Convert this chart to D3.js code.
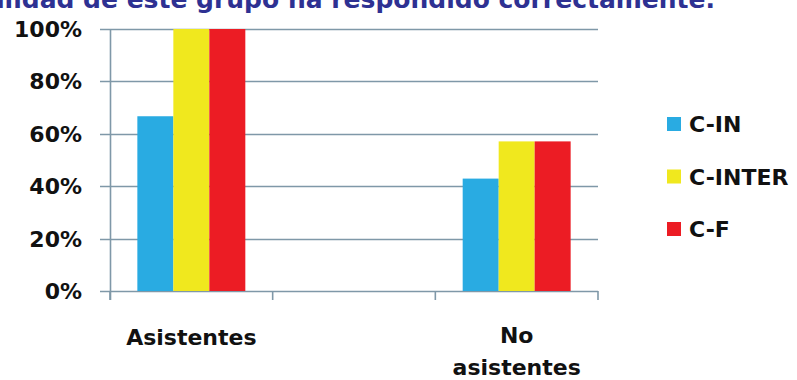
<!DOCTYPE html>
<html>
<head>
<meta charset="utf-8">
<script src="https://cdn.jsdelivr.net/npm/d3@7"></script>
<style>
  html, body { margin: 0; padding: 0; background: #fff; }
  svg { display: block; }
  text { font-family: "DejaVu Sans", sans-serif; font-weight: 700; fill: #111; }
</style>
</head>
<body>
<svg id="chart" width="797" height="380"></svg>
<script>
// Groups on the x axis (the middle slot is left empty)
const categories = ["Asistentes", "", "No asistentes"];
// Series names and their values per group (fraction of respondents)
const series = ["C-IN", "C-INTER", "C-F"];
const valuesCIN    = [0.667, null, 0.429];
const valuesCINTER = [1.0,   null, 0.571];
const valuesCF     = [1.0,   null, 0.571];
const seriesValues = [valuesCIN, valuesCINTER, valuesCF];
const colors = ["#29ABE2", "#F0E81E", "#EC1C24"];
const yTicks = [0, 0.2, 0.4, 0.6, 0.8, 1.0];
const titleText = "La totalidad de este grupo ha respondido correctamente.";

const svg = d3.select("#chart");

const x = d3.scaleBand().domain(d3.range(categories.length)).range([110, 598]).padding(0);
const xInner = d3.scaleBand().domain(series).range([0, x.bandwidth()]).paddingInner(0).paddingOuter(0.76);
const y = d3.scaleLinear().domain([0, 1]).range([291, 29]);
const color = d3.scaleOrdinal().domain(series).range(colors);

// Title (runs off the top edge)
svg.append("text")
  .attr("x", 715).attr("y", 8)
  .attr("text-anchor", "end")
  .style("font-size", "25px")
  .style("fill", "#2E3192")
  .text(titleText);

// Horizontal gridlines, extending left past the axis as tick marks
svg.append("g").selectAll("line").data(yTicks).join("line")
  .attr("x1", 100).attr("x2", x.range()[1])
  .attr("y1", d => Math.round(y(d)) + 0.5).attr("y2", d => Math.round(y(d)) + 0.5)
  .attr("stroke", "#7F98A8").attr("stroke-width", 1.6);

// Vertical axis line
svg.append("line")
  .attr("x1", 110.5).attr("x2", 110.5)
  .attr("y1", y(1)).attr("y2", y(0) + 9)
  .attr("stroke", "#7F98A8").attr("stroke-width", 1.6);

// Category boundary ticks below the baseline
const boundaries = d3.range(categories.length + 1).map(i => x.range()[0] + i * x.step());
svg.append("g").selectAll("line").data(boundaries).join("line")
  .attr("x1", d => d).attr("x2", d => d)
  .attr("y1", y(0)).attr("y2", y(0) + 9)
  .attr("stroke", "#7F98A8").attr("stroke-width", 1.6);

// Y tick labels
svg.append("g").selectAll("text").data(yTicks).join("text")
  .attr("x", 82).attr("y", d => y(d))
  .attr("dy", "0.36em")
  .attr("text-anchor", "end")
  .style("font-size", "22px")
  .text(d3.format(".0%"));

// Bars
const barData = [];
categories.forEach((c, i) => {
  series.forEach((s, j) => {
    const v = seriesValues[j][i];
    if (v != null) barData.push({ i, s, v });
  });
});
svg.append("g").selectAll("rect").data(barData).join("rect")
  .attr("x", d => x(d.i) + xInner(d.s))
  .attr("width", xInner.bandwidth())
  .attr("y", d => y(d.v))
  .attr("height", d => y(0) - y(d.v))
  .attr("fill", d => color(d.s));

// Category labels (multi-word labels wrap onto separate lines)
const catLabels = svg.append("g").selectAll("text").data(categories).join("text")
  .attr("text-anchor", "middle")
  .style("font-size", "22px")
  .attr("transform", (d, i) => `translate(${x(i) + x.bandwidth() / 2},${d.includes(" ") ? 343 : 345})`);
catLabels.each(function(d) {
  const words = d.split(" ");
  d3.select(this).selectAll("tspan").data(words).join("tspan")
    .attr("x", 0).attr("dy", (w, k) => k === 0 ? 0 : 32)
    .text(w => w);
});

// Legend
const legend = svg.append("g").selectAll("g").data(series).join("g")
  .attr("transform", (d, i) => `translate(667,${132 + i * 52.5})`);
legend.append("rect")
  .attr("x", 0).attr("y", -15).attr("width", 14).attr("height", 14)
  .attr("fill", d => color(d));
legend.append("text")
  .attr("x", 22).attr("y", 0)
  .style("font-size", "22px")
  .text(d => d);
</script>
</body>
</html>
